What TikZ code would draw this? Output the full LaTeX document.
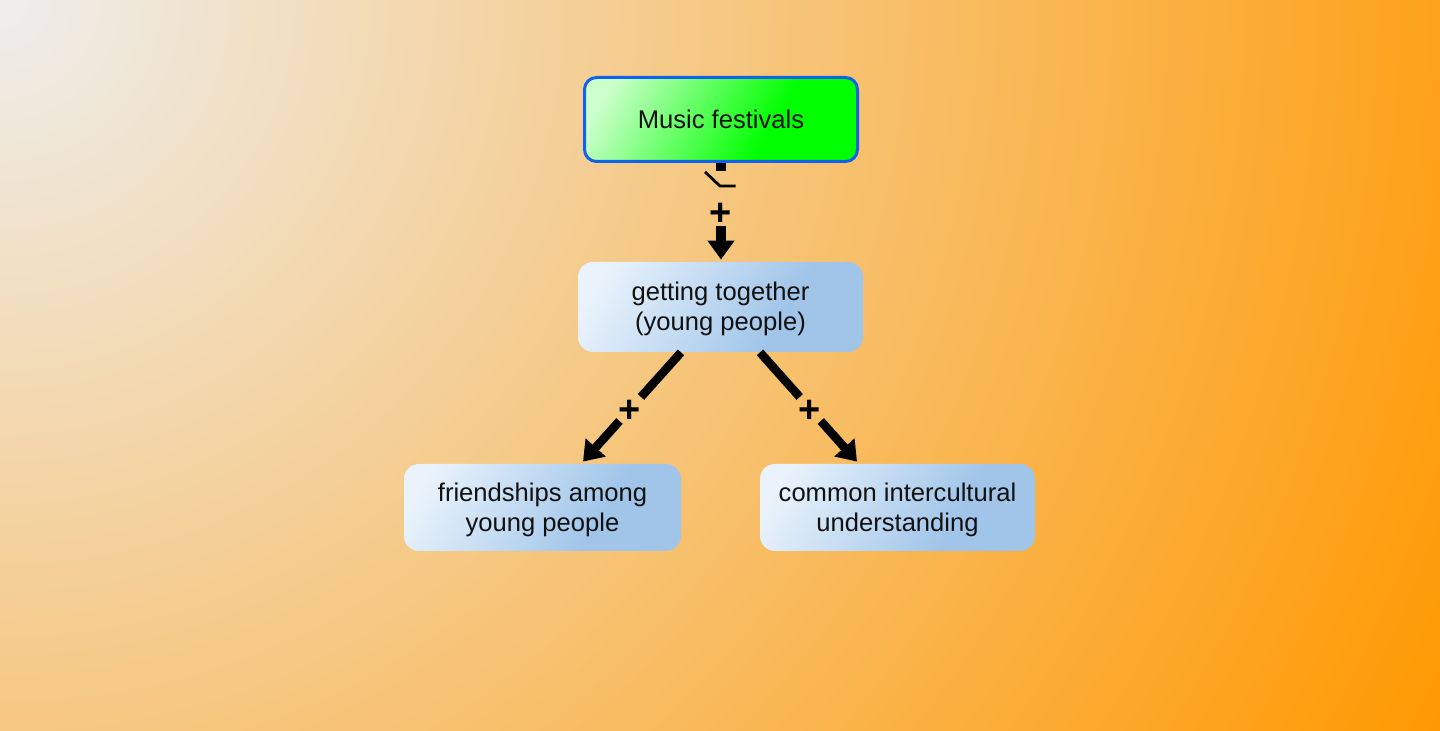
\documentclass[tikz,border=0pt]{standalone}
\usepackage{fontspec}
\setmainfont{Liberation Sans}
\usetikzlibrary{arrows.meta}
\definecolor{bgA}{RGB}{238,238,236}
\definecolor{bgB}{RGB}{255,153,0}
\definecolor{gA}{RGB}{205,255,205}
\definecolor{gB}{RGB}{0,255,0}
\definecolor{bA}{RGB}{234,243,252}
\definecolor{bB}{RGB}{160,197,233}
\definecolor{edgeblue}{RGB}{16,98,234}
\definecolor{ink}{RGB}{17,17,17}
\pgfdeclareradialshading{bgshade}{\pgfpoint{0pt}{0pt}}{color(0pt)=(bgA); color(807.46pt)=(bgB); color(830pt)=(bgB)}
\pgfdeclarehorizontalshading{greenshade}{100bp}{color(0bp)=(gA); color(22bp)=(gA); color(62bp)=(gB); color(100bp)=(gB)}
\pgfdeclarehorizontalshading{blueshade}{100bp}{color(0bp)=(bA); color(22bp)=(bA); color(64bp)=(bB); color(100bp)=(bB)}
\newcommand{\mystrutup}{\rule{0pt}{0.905em}}
\newcommand{\mystrutdown}{\rule[-0.212em]{0pt}{0pt}}
\tikzset{
  box/.style={align=center, inner sep=0pt, text=ink,
    font=\fontsize{12.8pt}{15pt}\selectfont, shade, shading angle=-30},
  greenbox/.style={box, draw=edgeblue, line width=1.5pt, shading=greenshade,
    rounded corners=6pt, minimum width=136.5pt, minimum height=42pt},
  bluebox/.style={box, shading=blueshade, rounded corners=7.5pt},
  conn/.style={line width=4.3pt, draw=black},
  tip/.style={-{Triangle[length=9.5pt,width=13pt]}},
  sign/.style={font=\bfseries\fontsize{19pt}{19pt}\selectfont, inner sep=0pt, text=black},
}
\begin{document}
\begin{tikzpicture}[x=0.5pt,y=0.5pt]
\useasboundingbox (0,0) rectangle (1440,-731);
\begin{scope}
  \clip (0,0) rectangle (1440,-731);
  \node[inner sep=0pt, outer sep=0pt] (bg) at (0,0) {\pgfuseshading{bgshade}};
\end{scope}

% boxes
\node[greenbox] (n1) at (721,-119.5) {\mystrutup Music festivals\mystrutdown};
\node[bluebox, minimum width=142.5pt, minimum height=45pt] (n2) at (720.5,-307) {\mystrutup getting together\\(young people)\mystrutdown};
\node[bluebox, minimum width=138.5pt, minimum height=43.5pt] (n3) at (542.5,-507.5) {\mystrutup friendships among\\young people\mystrutdown};
\node[bluebox, minimum width=137.5pt, minimum height=43.5pt] (n4) at (897.5,-507.5) {\mystrutup common intercultural\\understanding\mystrutdown};

% top connector
\coordinate (t1) at (721,-171);
\coordinate (t2) at (721,-226);
\draw[conn, line width=5pt] (n1.south -| t1) -- (t1);
\draw[line width=1.4pt] (705,-172) -- (720,-186) -- (735.5,-186);
\node[sign] (p0) at (721,-214) {+};
\draw[conn, line width=5pt, tip] (t2) -- ([yshift=1pt]t2 |- n2.north);

% left connector
\coordinate (l1) at (641,-397);
\coordinate (l2) at (619.5,-421);
\draw[conn] ([xshift=-19.75pt]n2.south) -- (l1);
\node[sign] (p1) at (630,-411) {+};
\draw[conn, tip] (l2) -- ([xshift=20.25pt,yshift=1pt]n3.north);

% right connector
\coordinate (r1) at (799.7,-397);
\coordinate (r2) at (820.8,-421);
\draw[conn] ([xshift=19.75pt]n2.south) -- (r1);
\node[sign] (p2) at (810,-411) {+};
\draw[conn, tip] (r2) -- ([xshift=-20.25pt,yshift=1pt]n4.north);
\end{tikzpicture}
\end{document}
